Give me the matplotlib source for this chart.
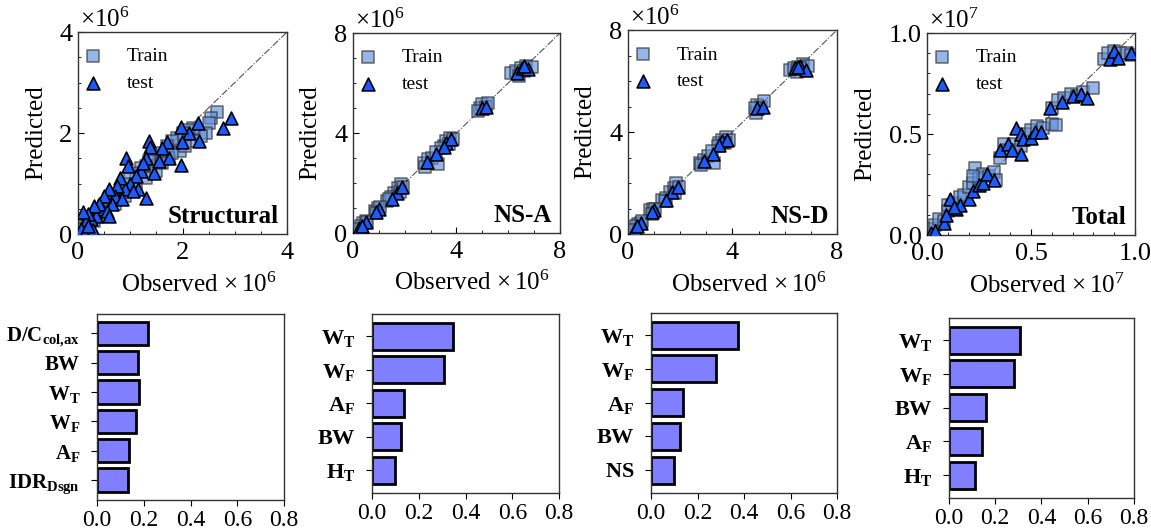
import numpy as np
import matplotlib
matplotlib.use('Agg')
import matplotlib.pyplot as plt
from matplotlib.ticker import AutoMinorLocator, MultipleLocator, FormatStrFormatter

plt.rcParams['font.family'] = ['Liberation Serif', 'DejaVu Serif']
plt.rcParams['mathtext.fontset'] = 'custom'
plt.rcParams['mathtext.rm'] = 'Liberation Serif'
plt.rcParams['mathtext.it'] = 'Liberation Serif:italic'
plt.rcParams['mathtext.bf'] = 'Liberation Serif:bold'

# ---------------- datos scatter (obs, pred) ----------------
# Structural  (x 1e6)
struct_train = [(2.65, 2.42), (2.55, 2.3), (2.5, 2.2), (2.45, 2.0), (2.35, 1.95), (2.2, 2.1),
                (2.1, 2.05), (2.0, 2.0), (1.9, 1.9), (1.8, 1.85), (1.7, 1.75), (1.6, 1.6),
                (1.55, 1.55), (1.45, 1.5), (1.35, 1.45), (1.3, 1.35), (1.2, 1.3), (1.1, 1.2),
                (1.0, 1.1), (0.9, 1.0), (0.85, 0.9), (0.75, 0.8), (0.7, 0.75), (0.6, 0.7),
                (0.55, 0.6), (0.5, 0.55), (0.45, 0.5), (0.4, 0.45), (0.35, 0.4), (0.3, 0.35),
                (0.25, 0.3), (0.2, 0.25), (0.15, 0.2), (0.1, 0.15), (0.05, 0.1), (0.3, 0.25),
                (0.5, 0.4), (0.7, 0.6), (0.9, 0.75), (1.1, 0.95), (1.3, 1.1), (1.5, 1.25),
                (1.75, 1.5), (1.95, 1.65), (2.2, 1.85), (1.8, 1.6), (1.6, 1.4), (2.05, 1.75)]
struct_test = [(2.93, 2.29), (2.78, 2.09), (2.3, 2.2), (2.32, 1.85), (2.12, 2.0), (1.97, 2.12),
               (1.98, 1.82), (1.97, 1.37), (1.7, 1.83), (1.75, 1.5), (1.6, 1.7), (1.55, 1.45),
               (1.35, 1.85), (1.37, 1.73), (1.3, 1.5), (1.2, 1.25), (1.25, 1.4), (1.1, 1.15),
               (0.92, 1.5), (0.95, 1.35), (1.0, 1.0), (0.9, 0.9), (0.8, 1.1), (0.75, 0.95),
               (0.7, 0.75), (0.6, 0.9), (0.65, 0.6), (0.5, 0.75), (0.45, 0.5), (0.4, 0.6),
               (0.35, 0.35), (0.3, 0.55), (0.25, 0.3), (0.2, 0.4), (0.15, 0.25), (0.1, 0.44),
               (0.05, 0.1), (0.15, 0.08), (0.28, 0.08), (1.31, 0.71), (1.15, 0.9), (1.45, 1.2),
               (0.55, 0.45), (0.85, 0.7), (1.05, 0.85), (0.2, 0.15), (0.6, 0.35)]

# NS-A (x 1e6)
nsa_train = [(6.1, 6.4), (6.3, 6.5), (6.5, 6.6), (6.7, 6.7), (6.9, 6.65), (6.4, 6.3), (6.6, 6.5),
             (4.9, 5.0), (5.0, 5.15), (5.15, 5.05), (5.2, 5.2), (4.85, 4.9),
             (3.5, 3.5), (3.6, 3.7), (3.75, 3.8), (3.85, 3.75), (3.4, 3.4), (3.7, 3.55),
             (2.75, 2.8), (2.9, 2.95), (3.05, 3.0), (3.2, 3.25), (3.3, 2.75), (2.8, 2.65),
             (1.6, 1.6), (1.75, 1.8), (1.85, 1.95), (1.95, 1.85), (1.8, 1.65),
             (1.3, 1.3), (1.45, 1.45), (1.4, 1.35),
             (0.85, 0.9), (0.95, 1.0), (1.05, 1.05), (0.9, 0.8),
             (0.4, 0.4), (0.5, 0.5), (0.3, 0.3), (0.2, 0.15), (0.55, 0.45)]
nsa_test = [(6.35, 6.4), (6.55, 6.6), (6.75, 6.55), (6.6, 6.7),
            (5.0, 5.0), (5.15, 5.05),
            (3.6, 3.6), (3.8, 3.75), (3.5, 3.45),
            (2.85, 2.85), (3.2, 3.15),
            (1.7, 1.6), (1.9, 1.85), (1.5, 1.35),
            (1.0, 0.95), (0.9, 0.85),
            (0.5, 0.45), (0.25, 0.2), (0.35, 0.3)]

# NS-D (x 1e6)
nsd_train = [(6.2, 6.45), (6.35, 6.5), (6.5, 6.55), (6.7, 6.65), (6.9, 6.6), (6.45, 6.35), (6.6, 6.5),
             (4.9, 4.75), (4.95, 5.05), (5.1, 5.0), (5.2, 5.2), (4.85, 4.95),
             (3.5, 3.55), (3.6, 3.7), (3.75, 3.8), (3.85, 3.7), (3.45, 3.45), (3.7, 3.55),
             (2.75, 2.8), (2.9, 2.9), (3.05, 3.05), (3.2, 3.25), (3.3, 2.8), (2.8, 2.7),
             (1.6, 1.65), (1.75, 1.8), (1.85, 2.0), (1.95, 1.85), (1.8, 1.6),
             (1.3, 1.35), (1.45, 1.4), (1.4, 1.3),
             (0.85, 0.95), (0.95, 1.0), (1.05, 1.0), (0.9, 0.8),
             (0.4, 0.4), (0.5, 0.45), (0.3, 0.3), (0.2, 0.15), (0.55, 0.5)]
nsd_test = [(6.4, 6.5), (6.6, 6.6), (6.8, 6.45), (6.5, 6.55),
            (4.95, 4.95), (5.15, 5.0),
            (3.6, 3.65), (3.8, 3.7), (3.5, 3.5),
            (2.9, 2.85), (3.25, 3.15),
            (1.7, 1.65), (1.9, 1.85), (1.45, 1.35),
            (1.0, 0.95), (0.9, 0.85),
            (0.5, 0.45), (0.25, 0.2), (0.35, 0.3)]

# Total (x 1e7)
tot_train = [(0.02, 0.03), (0.04, 0.05), (0.06, 0.08), (0.08, 0.07), (0.1, 0.12), (0.12, 0.15),
             (0.14, 0.16), (0.16, 0.19), (0.18, 0.2), (0.2, 0.24), (0.22, 0.26), (0.23, 0.33),
             (0.25, 0.28), (0.27, 0.3), (0.3, 0.29), (0.32, 0.31), (0.35, 0.38), (0.37, 0.45),
             (0.39, 0.42), (0.42, 0.45), (0.45, 0.44), (0.48, 0.5), (0.5, 0.52), (0.53, 0.54),
             (0.56, 0.53), (0.6, 0.55), (0.62, 0.545), (0.6, 0.63), (0.63, 0.67), (0.66, 0.68),
             (0.69, 0.7), (0.72, 0.69), (0.75, 0.71), (0.8, 0.73), (0.85, 0.87), (0.87, 0.9),
             (0.9, 0.91), (0.93, 0.9), (0.96, 0.9), (0.98, 0.89), (0.1, 0.15), (0.22, 0.29),
             (0.33, 0.27)]
tot_test = [(0.02, 0.01), (0.04, 0.02), (0.08, 0.06), (0.11, 0.18), (0.14, 0.13), (0.16, 0.15),
            (0.2, 0.18), (0.22, 0.22), (0.25, 0.25), (0.27, 0.26), (0.29, 0.3), (0.32, 0.27),
            (0.35, 0.42), (0.39, 0.45), (0.41, 0.42), (0.43, 0.53), (0.45, 0.5), (0.45, 0.4),
            (0.46, 0.475), (0.5, 0.48), (0.52, 0.51), (0.55, 0.51), (0.59, 0.63), (0.65, 0.66),
            (0.7, 0.69), (0.74, 0.7), (0.77, 0.68), (0.88, 0.87), (0.9, 0.91), (0.92, 0.875),
            (0.98, 0.9), (0.13, 0.14), (0.09, 0.1)]

# ---------------- importancia de variables ----------------
struct_feat = [r'$\mathbf{D/C}_{\mathbf{col{,}ax}}$', r'$\mathbf{BW}$', r'$\mathbf{W_T}$',
               r'$\mathbf{W_F}$', r'$\mathbf{A_F}$', r'$\mathbf{IDR_{Dsgn}}$']
struct_imp = [0.22, 0.175, 0.178, 0.168, 0.135, 0.131]

nsa_feat = [r'$\mathbf{W_T}$', r'$\mathbf{W_F}$', r'$\mathbf{A_F}$', r'$\mathbf{BW}$', r'$\mathbf{H_T}$']
nsa_imp = [0.347, 0.307, 0.135, 0.123, 0.097]

nsd_feat = [r'$\mathbf{W_T}$', r'$\mathbf{W_F}$', r'$\mathbf{A_F}$', r'$\mathbf{BW}$', r'$\mathbf{NS}$']
nsd_imp = [0.373, 0.281, 0.138, 0.123, 0.097]

tot_feat = [r'$\mathbf{W_T}$', r'$\mathbf{W_F}$', r'$\mathbf{BW}$', r'$\mathbf{A_F}$', r'$\mathbf{H_T}$']
tot_imp = [0.306, 0.281, 0.161, 0.144, 0.111]

# ---------------- figura ----------------
fig = plt.figure(figsize=(11.51, 5.31), dpi=100)

top_pos = [[0.0678, 0.5593, 0.1816, 0.3804],
           [0.3067, 0.5612, 0.1798, 0.3766],
           [0.5456, 0.5593, 0.1816, 0.3842],
           [0.8054, 0.5574, 0.1807, 0.3804]]
bot_pos = [[0.0843, 0.0584, 0.1625, 0.3503],
           [0.3232, 0.0716, 0.1625, 0.3371],
           [0.5656, 0.0716, 0.1616, 0.3390],
           [0.8245, 0.0621, 0.1607, 0.3390]]

scatters = [(struct_train, struct_test, 4, 2, 4, 'Structural', 6),
            (nsa_train, nsa_test, 8, 4, 4, 'NS-A', 6),
            (nsd_train, nsd_test, 8, 4, 4, 'NS-D', 6),
            (tot_train, tot_test, 1.0, 0.5, 5, 'Total', 7)]

for pos, (tr, te, lim, major, nminor, name, expo) in zip(top_pos, scatters):
    ax = fig.add_axes(pos)
    tr = np.array(tr)
    te = np.array(te)
    ax.plot([0, lim], [0, lim], '-.', color='#555555', lw=0.8, zorder=1)
    ax.scatter(tr[:, 0], tr[:, 1], marker='s', s=85, facecolor='#5f8fdc',
               edgecolor='#333333', linewidth=1.2, alpha=0.65, zorder=2, label='Train')
    ax.scatter(te[:, 0], te[:, 1], marker='^', s=85, facecolor='#1a5cff',
               edgecolor='black', linewidth=1.2, zorder=3, label='test')
    ax.set_xlim(0, lim)
    ax.set_ylim(0, lim)
    ax.xaxis.set_major_locator(MultipleLocator(major))
    ax.yaxis.set_major_locator(MultipleLocator(major))
    ax.xaxis.set_minor_locator(AutoMinorLocator(nminor))
    ax.yaxis.set_minor_locator(AutoMinorLocator(nminor))
    if lim == 1.0:
        ax.xaxis.set_major_formatter(FormatStrFormatter('%.1f'))
        ax.yaxis.set_major_formatter(FormatStrFormatter('%.1f'))
    ax.tick_params(which='both', direction='in', labelsize=19)
    ax.tick_params(axis='x', pad=6)
    ax.tick_params(axis='y', pad=4)
    ax.tick_params(which='major', length=4)
    ax.tick_params(which='minor', length=2.5)
    for sp in ax.spines.values():
        sp.set_linewidth(1.0)
        sp.set_color('#333333')
    ax.set_ylabel('Predicted', fontsize=18, labelpad=9)
    ax.set_xlabel(r'Observed$\,\times10^{%d}$' % expo, fontsize=18, ha='right')
    ax.xaxis.set_label_coords(0.95, -0.19)
    ax.text(0.01, 1.0, r'$\times10^{%d}$' % expo, transform=ax.transAxes,
            fontsize=18, ha='left', va='bottom')
    ax.text(0.96, 0.03, name, transform=ax.transAxes, fontsize=18,
            fontweight='bold', ha='right', va='bottom')
    ax.legend(loc='upper left', bbox_to_anchor=(-0.01, 0.96), frameon=False,
              fontsize=14, handlelength=1.0, handletextpad=1.2, labelspacing=0.45,
              borderaxespad=0.0, scatterpoints=1)

bars = [(struct_feat, struct_imp, 15), (nsa_feat, nsa_imp, 16),
        (nsd_feat, nsd_imp, 16), (tot_feat, tot_imp, 16)]

for pos, (feat, imp, fs) in zip(bot_pos, bars):
    ax = fig.add_axes(pos)
    y = np.arange(len(feat))
    ax.barh(y, imp, height=0.8, color='#7f7fff', edgecolor='black', linewidth=2)
    ax.set_yticks(y)
    ax.set_yticklabels(feat, fontsize=fs)
    ax.set_ylim(len(feat) - 1 + 0.68, -0.66)
    ax.set_xlim(0, 0.8)
    ax.set_xticks([0.0, 0.2, 0.4, 0.6, 0.8])
    ax.set_xticklabels(['0.0', '0.2', '0.4', '0.6', '0.8'])
    ax.tick_params(axis='x', labelsize=17, length=4)
    ax.tick_params(axis='y', length=4, pad=8)
    for sp in ax.spines.values():
        sp.set_linewidth(1.0)
        sp.set_color('#333333')

fig.savefig('out.png', dpi=100)
